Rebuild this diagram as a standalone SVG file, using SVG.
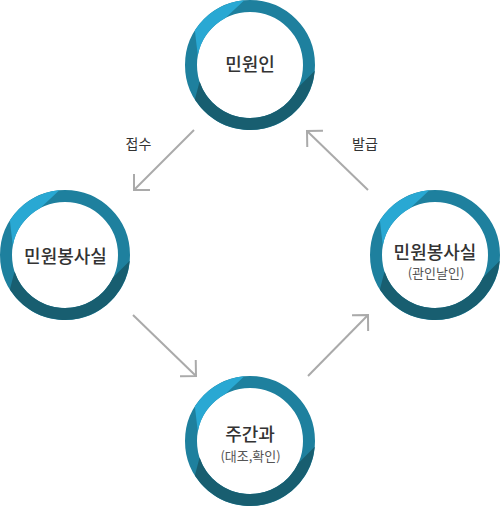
<svg xmlns="http://www.w3.org/2000/svg" xmlns:xlink="http://www.w3.org/1999/xlink" width="500" height="506" viewBox="0 0 500 506">
  <style>
    .t { font-family: "Noto Sans CJK KR", "Noto Sans", sans-serif; fill: #333333; text-anchor: middle; }
    .main { font-size: 18px; font-weight: 500; }
    .sub { font-size: 13px; fill: #555555; }
    .lbl { font-size: 14px; fill: #333333; }
    .base { fill: none; stroke: #1e809e; stroke-width: 12; }
    .light { fill: #29a8d3; }
    .dark { fill: #185e70; }
    .arrow { fill: none; stroke: #aaaaaa; stroke-width: 2; marker-end: url(#chev); }
  </style>
  <defs>
    <marker id="chev" markerUnits="userSpaceOnUse" markerWidth="30" markerHeight="30" viewBox="-15 -15 30 30" refX="0" refY="0" orient="auto">
      <path d="M-11.3,-11.3 L0,0 L-11.3,11.3" fill="none" stroke="#aaaaaa" stroke-width="2"/>
    </marker>
    <g id="ring">
      <circle r="53" fill="#ffffff"/>
      <circle r="59" class="base"/>
      <path class="light" d="M-5.67,-64.75 A65,65 0 0 0 -55.12,-34.44 L-52.19,-9.20 A53,53 0 0 1 -24.88,-46.80 Z"/>
      <path class="dark" d="M64.75,5.67 A65,65 0 0 1 -55.12,34.44 L-50.41,16.38 A53,53 0 0 0 48.03,22.40 Z"/>
    </g>
  </defs>

  <g id="connectors">
    <line class="arrow" x1="194" y1="130" x2="134" y2="190"/>
    <line class="arrow" x1="368" y1="190" x2="307" y2="131"/>
    <line class="arrow" x1="133" y1="315" x2="196" y2="376"/>
    <line class="arrow" x1="308" y1="376" x2="368" y2="315"/>
    <text class="t lbl" x="138.5" y="149">접수</text>
    <text class="t lbl" x="365" y="149">발급</text>
  </g>

  <g id="node-minwonin">
    <use xlink:href="#ring" href="#ring" x="250" y="65"/>
    <text class="t main" x="250" y="71">민원인</text>
  </g>

  <g id="node-minwon-left">
    <use xlink:href="#ring" href="#ring" x="65" y="255"/>
    <text class="t main" x="65.5" y="263">민원봉사실</text>
  </g>

  <g id="node-minwon-right">
    <use xlink:href="#ring" href="#ring" x="435" y="255"/>
    <text class="t main" x="435" y="259">민원봉사실</text>
    <text class="t sub" x="436" y="278">(관인날인)</text>
  </g>

  <g id="node-jugangwa">
    <use xlink:href="#ring" href="#ring" x="250" y="441"/>
    <text class="t main" x="250" y="441">주간과</text>
    <text class="t sub" x="250.5" y="461">(대조,확인)</text>
  </g>
</svg>
